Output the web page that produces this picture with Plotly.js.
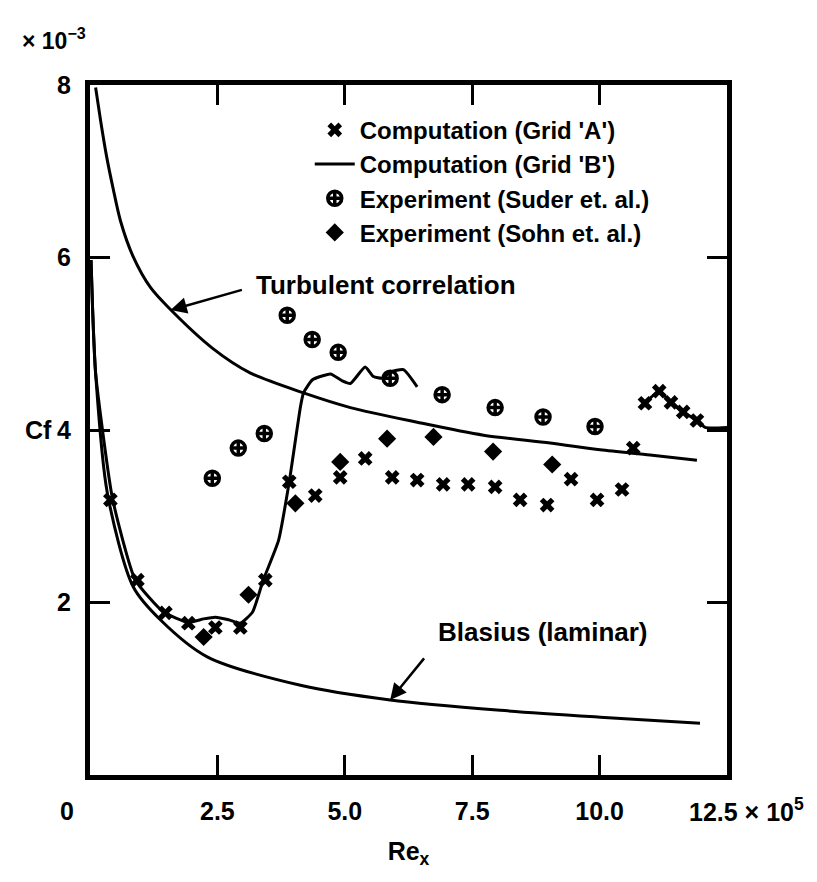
<!DOCTYPE html>
<html>
<head>
<meta charset="utf-8">
<script src="https://cdn.plot.ly/plotly-3.0.1.min.js"></script>
<style>html,body{margin:0;padding:0;background:#fff;}</style>
</head>
<body>
<div id="chart" style="width:817px;height:882px;"></div>
<script>
// Re_x in units of 1e5, Cf in units of 1e-3
const gridA_x = [0.40,0.93,1.48,1.93,2.46,2.95,3.44,3.91,4.42,4.91,5.40,5.93,6.42,6.93,7.42,7.95,8.44,8.97,9.44,9.95,10.44,10.66,10.89,11.17,11.40,11.64,11.91];
const gridA_y = [3.19,2.26,1.88,1.76,1.71,1.71,2.26,3.40,3.24,3.45,3.67,3.45,3.42,3.37,3.37,3.34,3.19,3.13,3.43,3.19,3.31,3.79,4.31,4.45,4.32,4.21,4.11];

const gridB_x = [0.02,0.05,0.11,0.44,0.89,1.44,1.93,2.23,2.46,2.72,2.95,3.19,3.40,3.70,3.91,4.13,4.19,4.36,4.52,4.72,4.95,5.11,5.40,5.56,5.74,5.89,6.15,6.42,null,10.89,11.17,11.40,11.64,11.91,12.07,12.5];
const gridB_y = [5.97,5.42,4.66,3.21,2.26,1.89,1.77,1.81,1.83,1.80,1.76,1.89,2.26,2.72,3.40,4.27,4.43,4.58,4.62,4.65,4.57,4.54,4.73,4.62,4.60,4.67,4.70,4.50,null,4.31,4.45,4.32,4.21,4.11,4.03,4.03];

const suder_x = [2.40,2.91,3.42,3.87,4.36,4.87,5.89,6.91,7.95,8.89,9.91];
const suder_y = [3.44,3.79,3.96,5.33,5.05,4.90,4.60,4.41,4.26,4.15,4.04];

const sohn_x = [2.23,3.11,4.03,4.91,5.83,6.74,7.91,9.07];
const sohn_y = [1.60,2.09,3.15,3.63,3.90,3.92,3.75,3.60];

const blasius_x = [0.02,0.05,0.11,0.34,0.85,1.38,2.30,4.13,5.89,8.05,10.01,11.97];
const blasius_y = [5.97,5.42,4.66,3.27,2.18,1.80,1.37,1.04,0.87,0.75,0.67,0.60];

const turb_x = [0.11,0.21,0.32,0.45,0.60,0.84,1.19,1.54,2.40,3.15,4.19,5.11,6.42,7.72,9.03,10.01,10.99,11.91];
const turb_y = [7.97,7.58,7.19,6.81,6.42,6.02,5.65,5.42,4.95,4.66,4.43,4.26,4.09,3.94,3.85,3.77,3.71,3.65];

const xTickVals = [2.5,5.0,7.5,10.0];
const xTickText = ['2.5','5.0','7.5','10.0'];
const yTickVals = [2,4,6,8];
const yTickText = ['2','4','6','8'];

const legendNames = ["Computation (Grid 'A')","Computation (Grid 'B')","Experiment (Suder et. al.)","Experiment (Sohn et. al.)"];

const FONT = 'Liberation Sans, Arial, Helvetica, sans-serif';

const traces = [
  {x: turb_x, y: turb_y, mode:'lines', line:{color:'#000', width:3, shape:'spline', smoothing:0.8}, showlegend:false, hoverinfo:'skip'},
  {x: blasius_x, y: blasius_y, mode:'lines', line:{color:'#000', width:3, shape:'spline', smoothing:0.8}, showlegend:false, hoverinfo:'skip'},
  {x: gridA_x, y: gridA_y, mode:'markers', name: legendNames[0], marker:{symbol:'x', size:13, color:'#000', line:{width:0}}},
  {x: gridB_x, y: gridB_y, mode:'lines', name: legendNames[1], connectgaps:false, line:{color:'#000', width:3, shape:'spline', smoothing:0.5}},
  {x: suder_x, y: suder_y, mode:'markers', name: legendNames[2], marker:{symbol:'circle-cross-open', size:14, color:'#000', line:{width:3.5, color:'#000'}}},
  {x: sohn_x, y: sohn_y, mode:'markers', name: legendNames[3], marker:{symbol:'diamond', size:14, color:'#000'}}
];

const layout = {
  width: 817, height: 882,
  margin: {l:90, r:90, t:85, b:107, pad:0},
  paper_bgcolor:'#fff', plot_bgcolor:'#fff',
  font: {family: FONT, size: 25, color:'#000', weight:'bold'},
  showlegend: true,
  legend: {x:0.345, y:0.967, xanchor:'left', yanchor:'top', bgcolor:'rgba(0,0,0,0)', borderwidth:0,
           font:{family:FONT, size:24, color:'#000', weight:'bold'}, itemwidth:40, traceorder:'normal'},
  xaxis: {range:[0,12.5], showgrid:false, zeroline:false, showline:true, linewidth:5, linecolor:'#000', mirror:'ticks',
          ticks:'inside', ticklen:20, tickwidth:3, tickcolor:'#000', tickvals:xTickVals, ticktext:xTickText,
          ticklabelstandoff:10, tickfont:{family:FONT, size:25, weight:'bold'},
          title:{text:'Re<sub>x</sub>', font:{family:FONT, size:25, weight:'bold'}, standoff:20}},
  yaxis: {range:[0,8], showgrid:false, zeroline:false, showline:true, linewidth:5, linecolor:'#000', mirror:'ticks',
          ticks:'inside', ticklen:20, tickwidth:3, tickcolor:'#000', tickvals:yTickVals, ticktext:yTickText,
          ticklabelstandoff:9, tickfont:{family:FONT, size:25, weight:'bold'}},
  annotations: [
    {xref:'paper', yref:'y', x:-0.056, y:4, xanchor:'right', yanchor:'middle', text:'Cf', showarrow:false, font:{size:25}},
    {xref:'paper', yref:'paper', x:-0.036, y:-0.052, xanchor:'center', yanchor:'middle', text:'0', showarrow:false, font:{size:25}},
    {xref:'paper', yref:'paper', x:0.937, y:-0.051, xanchor:'left', yanchor:'middle', text:'12.5 \u00d7 10<sup>5</sup>', showarrow:false, font:{size:25}},
    {xref:'paper', yref:'paper', x:-0.11, y:1.066, xanchor:'left', yanchor:'middle', text:'\u00d7 10<sup>\u22123</sup>', showarrow:false, font:{size:23}},
    {xref:'x', yref:'y', x:5.81, y:5.68, text:'Turbulent correlation', showarrow:false, font:{size:26}},
    {xref:'x', yref:'y', x:8.89, y:1.66, text:'Blasius (laminar)', showarrow:false, font:{size:26}},
    {xref:'x', yref:'y', axref:'x', ayref:'y', x:1.58, y:5.39, ax:3.01, ay:5.63, text:'', showarrow:true, arrowhead:2, arrowsize:1.3, arrowwidth:2.5, arrowcolor:'#000', standoff:0},
    {xref:'x', yref:'y', axref:'x', ayref:'y', x:5.89, y:0.87, ax:6.58, ay:1.37, text:'', showarrow:true, arrowhead:2, arrowsize:1.3, arrowwidth:2.5, arrowcolor:'#000', standoff:0}
  ]
};

Plotly.newPlot('chart', traces, layout, {displayModeBar:false, staticPlot:true});
</script>
</body>
</html>
